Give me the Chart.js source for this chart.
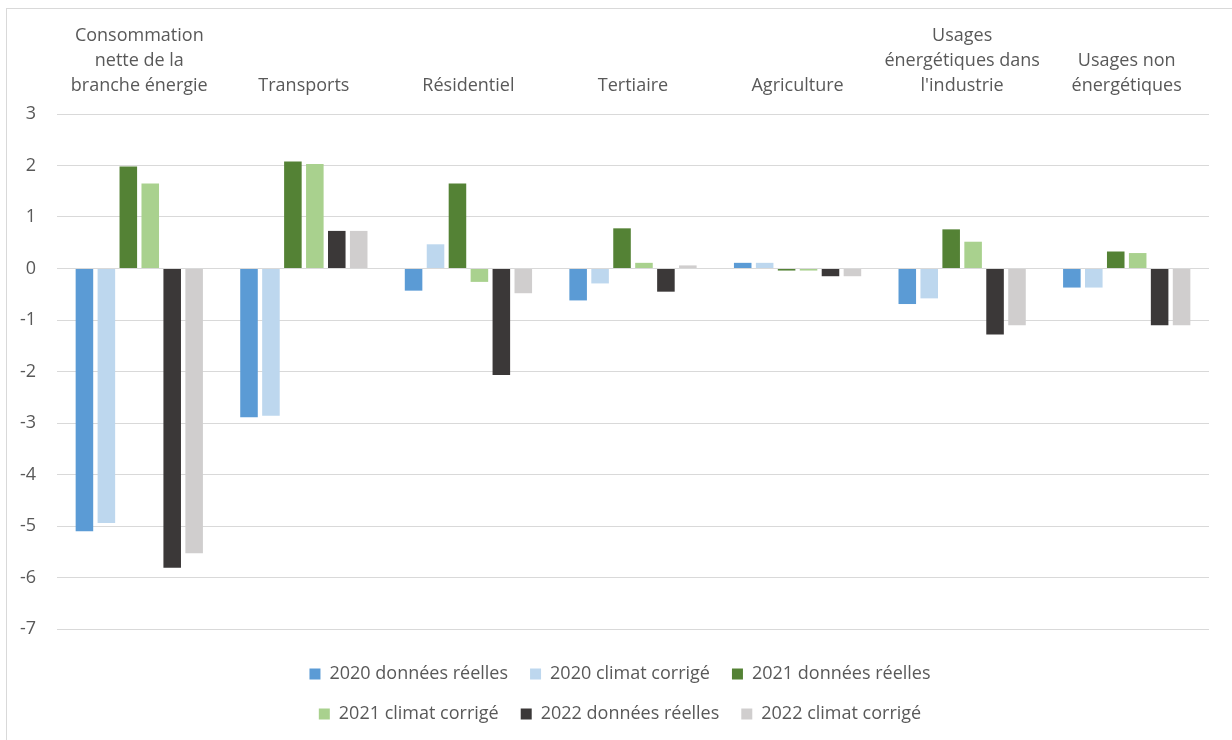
<!DOCTYPE html>
<html lang="fr">
<head>
<meta charset="utf-8">
<title>Évolution de la consommation d'énergie par secteur</title>
<script src="https://cdn.jsdelivr.net/npm/chart.js@4.4.1/dist/chart.umd.min.js"></script>
<style>
  html, body { margin: 0; padding: 0; background: #fff; }
  .frame {
    position: absolute; left: 6px; top: 8px; width: 1240px; height: 760px;
    border-left: 1px solid #d9d9d9; border-top: 1px solid #d9d9d9;
  }
  #chart { position: absolute; left: 0; top: 0; }
</style>
</head>
<body>
<div class="frame"></div>
<canvas id="chart" width="1232" height="740"></canvas>
<script>
// secteurs (axe du haut)
const categories = [
  ['Consommation', 'nette de la', 'branche énergie'],
  'Transports',
  'Résidentiel',
  'Tertiaire',
  'Agriculture',
  ['Usages', 'énergétiques dans', "l'industrie"],
  ['Usages non', 'énergétiques']
];

const seriesNames = [
  '2020 données réelles', '2020 climat corrigé',
  '2021 données réelles', '2021 climat corrigé',
  '2022 données réelles', '2022 climat corrigé'
];

const reel2020   = [-5.10, -2.89, -0.43, -0.62,  0.11, -0.69, -0.37];
const corrige2020 = [-4.94, -2.86,  0.47, -0.29,  0.11, -0.58, -0.37];
const reel2021   = [ 1.98,  2.08,  1.65,  0.78, -0.04,  0.76,  0.33];
const corrige2021 = [ 1.65,  2.03, -0.26,  0.11, -0.04,  0.52,  0.30];
const reel2022   = [-5.81,  0.73, -2.07, -0.45, -0.15, -1.28, -1.10];
const corrige2022 = [-5.53,  0.73, -0.48,  0.06, -0.15, -1.10, -1.10];

const yTicks = [3, 2, 1, 0, -1, -2, -3, -4, -5, -6, -7];

const colors = ['#5b9bd5', '#bdd7ee', '#548235', '#a9d18e', '#3b3838', '#d0cece'];
const values = [reel2020, corrige2020, reel2021, corrige2021, reel2022, corrige2022];

const FONT = '"Open Sans", "Noto Sans", sans-serif';
const TXT = '#595959';
const LEGEND_W = 720;

// légende sur deux lignes de trois entrées, posée un peu sous la zone de tracé
const legendRows = {
  id: 'legendRows',
  beforeUpdate(chart) {
    const lg = chart.legend;
    if (lg && !lg.rowsPatched) {
      const update = lg.update;
      lg.update = function (maxWidth, maxHeight, margins) {
        return update.call(this, Math.min(maxWidth, LEGEND_W), maxHeight, margins);
      };
      lg.rowsPatched = true;
    }
  },
  afterLayout(chart) {
    const lg = chart.legend;
    lg.top += 14;
    lg.bottom += 14;
    const mid = 620;
    lg.left = mid - LEGEND_W / 2;
    lg.right = mid + LEGEND_W / 2;
    lg.width = LEGEND_W;
  }
};

new Chart(document.getElementById('chart'), {
  type: 'bar',
  data: {
    labels: categories,
    datasets: values.map((v, i) => ({
      label: seriesNames[i],
      data: v,
      backgroundColor: colors[i],
      borderWidth: 0,
      categoryPercentage: 0.8,
      barPercentage: 0.8
    }))
  },
  options: {
    responsive: false,
    animation: false,
    layout: { padding: { left: 0, right: 23, top: 0, bottom: 21 } },
    plugins: {
      tooltip: { enabled: false },
      legend: {
        position: 'bottom',
        labels: {
          boxWidth: 11,
          boxHeight: 11,
          padding: 22,
          color: TXT,
          font: { family: FONT, size: 18 }
        }
      }
    },
    scales: {
      x: {
        position: 'top',
        grid: { display: false, drawTicks: false },
        border: { display: false },
        ticks: {
          color: TXT,
          padding: 16,
          maxRotation: 0,
          autoSkip: false,
          font: { family: FONT, size: 18, lineHeight: 25 / 18 }
        },
        afterFit(scale) { scale.height = 114; }
      },
      y: {
        min: -7,
        max: 3,
        grid: { color: '#d9d9d9', lineWidth: 1, drawTicks: false },
        border: { display: false },
        afterBuildTicks(scale) { scale.ticks = yTicks.map(v => ({ value: v })); },
        ticks: {
          color: TXT,
          padding: 21,
          font: { family: FONT, size: 18 }
        },
        afterFit(scale) { scale.width = 57; }
      }
    }
  },
  plugins: [legendRows]
});
</script>
</body>
</html>
